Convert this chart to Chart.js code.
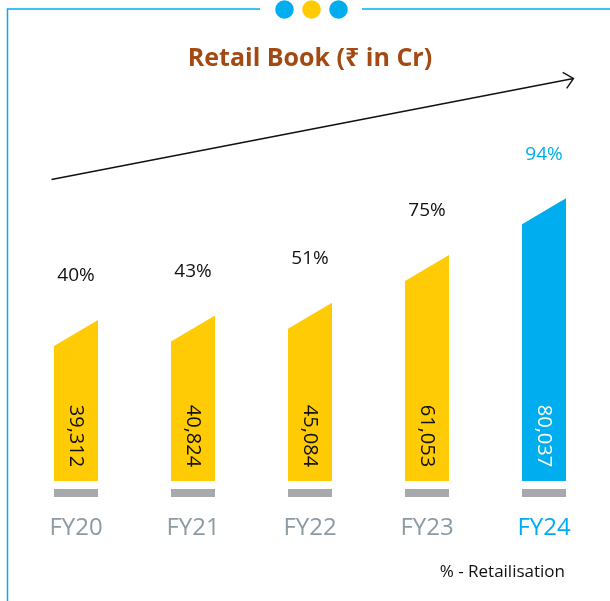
<!DOCTYPE html>
<html><head><meta charset="utf-8">
<script src="https://cdn.jsdelivr.net/npm/chart.js@4.4.1/dist/chart.umd.min.js"></script>
<style>html,body{margin:0;padding:0;background:#fff;overflow:hidden}#wrap{width:610px;height:601px;position:relative}</style>
</head><body><div id="wrap"><canvas id="c" width="610" height="601"></canvas></div>
<script>
const categories = ['FY20', 'FY21', 'FY22', 'FY23', 'FY24'];
const retailBook = [39312, 40824, 45084, 61053, 80037];
const retailisation = [40, 43, 51, 75, 94];
const chartTitle = 'Retail Book (₹ in Cr)';
const footnote = '% - Retailisation';

const YELLOW = '#FFCB05', BLUE = '#00AEEF', GREY = '#A7A9AC', TICK = '#8C9AA4', TITLE = '#A34A12';
const FONT = '"Open Sans", "Noto Sans", sans-serif';
const AXIS_MIN = -14570;
const isLast = i => i === categories.length - 1;
const fmt = v => v.toLocaleString('en-US');

const shapePlugin = {
  id: 'shape',
  beforeDatasetDraw(chart, args) {
    const ctx = chart.ctx;
    const meta = args.meta;
    ctx.save();
    meta.data.forEach((bar, i) => {
      const p = bar.getProps(['x', 'y', 'base', 'width'], true);
      const l = p.x - p.width / 2, r = p.x + p.width / 2;
      // grey base
      ctx.fillStyle = GREY;
      ctx.fillRect(l, p.base + 8, p.width, 8);
      // slanted bar
      ctx.fillStyle = isLast(i) ? BLUE : YELLOW;
      ctx.beginPath();
      ctx.moveTo(l, p.base);
      ctx.lineTo(r, p.base);
      ctx.lineTo(r, p.y);
      ctx.lineTo(l, p.y + 26);
      ctx.closePath();
      ctx.fill();
      // value label (rotated)
      ctx.save();
      ctx.translate(p.x, p.base - 45);
      ctx.rotate(Math.PI / 2);
      ctx.fillStyle = isLast(i) ? '#FFFFFF' : '#111111';
      ctx.font = '20px ' + FONT;
      ctx.textAlign = 'center';
      ctx.textBaseline = 'middle';
      ctx.fillText(fmt(retailBook[i]), 0, 0);
      ctx.restore();
      // percentage label
      ctx.fillStyle = isLast(i) ? BLUE : '#111111';
      ctx.font = '19px ' + FONT;
      ctx.textAlign = 'center';
      ctx.textBaseline = 'middle';
      ctx.fillText(retailisation[i] + '%', p.x, p.y - 44);
    });
    ctx.restore();
    return false;
  },
  afterDraw(chart) {
    const ctx = chart.ctx;
    ctx.save();
    // frame
    ctx.strokeStyle = BLUE;
    ctx.lineWidth = 1.5;
    ctx.beginPath();
    ctx.moveTo(7.5, 601);
    ctx.lineTo(7.5, 9);
    ctx.lineTo(260, 9);
    ctx.moveTo(362, 9);
    ctx.lineTo(610, 9);
    ctx.stroke();
    [[284.5, BLUE], [311.5, YELLOW], [338.5, BLUE]].forEach(([cx, col]) => {
      ctx.fillStyle = col;
      ctx.beginPath();
      ctx.arc(cx, 9.5, 9.3, 0, Math.PI * 2);
      ctx.fill();
    });
    // growth arrow
    ctx.strokeStyle = '#111';
    ctx.lineWidth = 1.4;
    ctx.beginPath();
    ctx.moveTo(51.5, 179.5);
    ctx.lineTo(573.5, 78.5);
    ctx.moveTo(562.7, 72.3);
    ctx.lineTo(573.5, 78.5);
    ctx.lineTo(566.7, 88.3);
    ctx.stroke();
    // footnote
    ctx.fillStyle = '#111111';
    ctx.font = '17px ' + FONT;
    ctx.textAlign = 'right';
    ctx.textBaseline = 'middle';
    ctx.fillText(footnote, 565, 572);
    ctx.restore();
  }
};

new Chart(document.getElementById('c'), {
  type: 'bar',
  data: {
    labels: categories,
    datasets: [{
      label: 'Retail Book',
      data: retailBook,
      base: AXIS_MIN,
      backgroundColor: categories.map((c, i) => isLast(i) ? BLUE : YELLOW),
      barThickness: 44
    }]
  },
  options: {
    responsive: false,
    animation: false,
    devicePixelRatio: 1,
    layout: { padding: { left: 17.5, right: 7.5, top: 0, bottom: 26 } },
    plugins: {
      legend: { display: false },
      tooltip: { enabled: false },
      title: {
        display: true,
        text: chartTitle,
        color: TITLE,
        font: { family: FONT, size: 25, weight: '700', lineHeight: 1.2 },
        padding: { top: 44, bottom: 9.8 }
      }
    },
    scales: {
      y: { display: false, min: AXIS_MIN, max: 118362 },
      x: {
        grid: { display: false, drawTicks: false },
        border: { display: false },
        ticks: {
          padding: 32.6,
          font: { family: FONT, size: 24 },
          color: c => isLast(c.index) ? BLUE : TICK
        }
      }
    }
  },
  plugins: [shapePlugin]
});
</script></body></html>
